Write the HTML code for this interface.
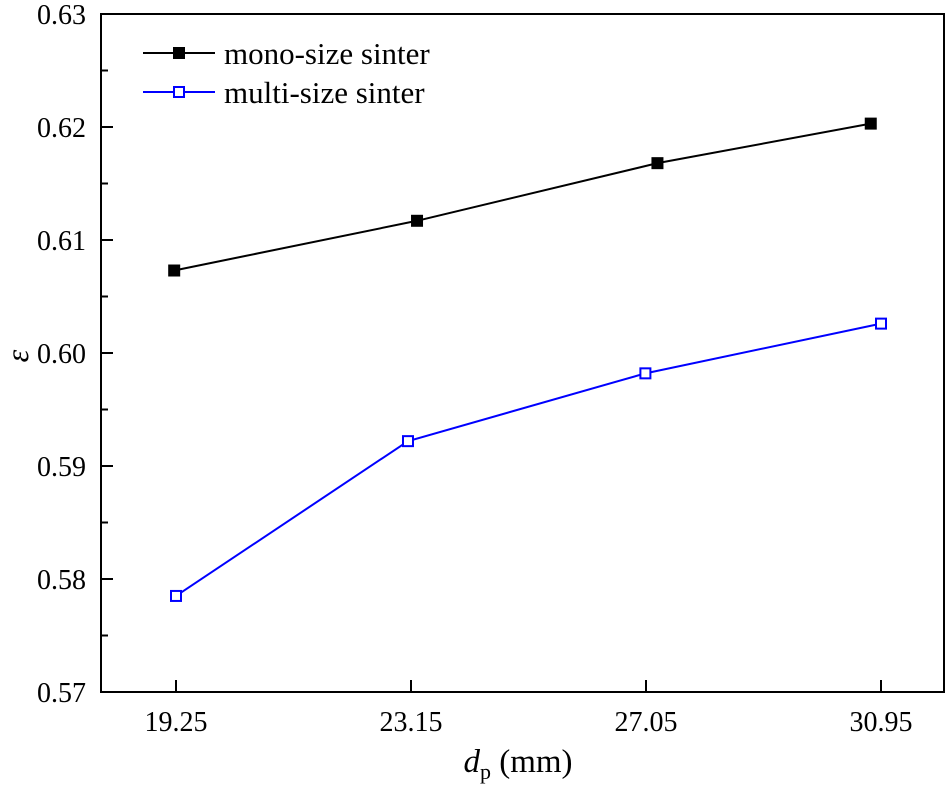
<!DOCTYPE html>
<html><head><meta charset="utf-8"><style>
body{margin:0;background:#fff;}
svg{display:block;font-family:"Liberation Serif",serif;}
</style></head><body>
<svg id="chart" width="947" height="786" viewBox="0 0 947 786">
<g id="axes"></g><g id="series"></g>
<g>
<line x1="143" y1="53" x2="215" y2="53" stroke="#000" stroke-width="2"/>
<rect x="173" y="47" width="12" height="12" fill="#000"/>
<text x="224" y="64" font-size="31">mono-size sinter</text>
<line x1="143" y1="92" x2="215" y2="92" stroke="#0000ff" stroke-width="2"/>
<rect x="174" y="87" width="10" height="10" fill="#fff" stroke="#0000ff" stroke-width="2"/>
<text x="224" y="103" font-size="31">multi-size sinter</text>
</g>
<text x="28" y="356" font-size="32" font-style="italic" text-anchor="middle" transform="rotate(-90 28 356)">ε</text>
<text x="518" y="772" font-size="33" text-anchor="middle"><tspan font-style="italic">d</tspan><tspan font-size="22" dy="7">p</tspan><tspan dy="-7"> (mm)</tspan></text>
</svg>
<script>
const xTicks=[19.25,23.15,27.05,30.95];
const xTickLabels=["19.25","23.15","27.05","30.95"];
const yTicks=[0.57,0.58,0.59,0.60,0.61,0.62,0.63];
const yTickLabels=["0.57","0.58","0.59","0.60","0.61","0.62","0.63"];
const monoX=[19.22,23.25,27.24,30.78];
const monoY=[0.6073,0.6117,0.6168,0.6203];
const multiX=[19.25,23.10,27.04,30.95];
const multiY=[0.5785,0.5922,0.5982,0.6026];
const L=101,R=944,T=14,B=692;
function sx(v){return 176+(v-19.25)*(235/3.9);}
function sy(v){return B-(v-0.57)*(B-T)/0.06;}
const NS="http://www.w3.org/2000/svg";
function mk(tag,attrs,parent,txt){const e=document.createElementNS(NS,tag);for(const k in attrs)e.setAttribute(k,attrs[k]);if(txt!==undefined)e.textContent=txt;parent.appendChild(e);return e;}
const ax=document.getElementById('axes');
const frame=mk('rect',{x:L,y:T,width:R-L,height:B-T,fill:'none',stroke:'#000','stroke-width':2},ax);


yTicks.forEach((v,i)=>{const y=sy(v);
 const t=mk('line',{x1:L,y1:y,x2:L+12,y2:y,stroke:'#000','stroke-width':2},ax);
 
 
 if(i<yTicks.length-1){const m=mk('line',{x1:L,y1:sy(v+0.005),x2:L+7,y2:sy(v+0.005),stroke:'#000','stroke-width':2},ax);
  
  }
 const lb=mk('text',{x:86,y:y+10,'font-size':28,'text-anchor':'end'},ax,yTickLabels[i]);
 
 
});
xTicks.forEach((v,i)=>{const x=sx(v);
 const t=mk('line',{x1:x,y1:B,x2:x,y2:B-12,stroke:'#000','stroke-width':2},ax);
 
 
 const lb=mk('text',{x:x,y:731,'font-size':28,'text-anchor':'middle'},ax,xTickLabels[i]);
 
 
});
const sg=document.getElementById('series');
function drawSeries(xs,ys,color,filled,name){
 const pl=mk('polyline',{points:xs.map((x,i)=>sx(x)+','+sy(ys[i])).join(' '),fill:'none',stroke:color,'stroke-width':2},sg);
 
 
 xs.forEach((x,i)=>{
  const r=filled?mk('rect',{x:sx(x)-6,y:sy(ys[i])-6,width:12,height:12,fill:color},sg)
   :mk('rect',{x:sx(x)-5,y:sy(ys[i])-5,width:10,height:10,fill:'#fff',stroke:color,'stroke-width':2},sg);
  
  
 });
}
drawSeries(monoX,monoY,'#000',true,'mono-size');
drawSeries(multiX,multiY,'#0000ff',false,'multi-size');
</script>
</body></html>
